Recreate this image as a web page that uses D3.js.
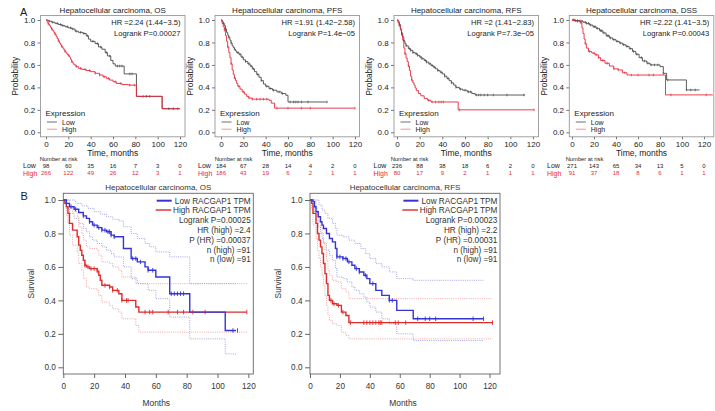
<!DOCTYPE html>
<html><head><meta charset="utf-8">
<script src="https://cdn.jsdelivr.net/npm/d3@7"></script>
<style>body{margin:0;background:#fff}svg{display:block}text{font-family:"Liberation Sans",Arial,sans-serif}</style>
</head><body><svg id="c" width="715" height="411"></svg>
<script>
// ---------- DATA (panel A: KM plotter) ----------
const aTitles = ["Hepatocellular carcinoma, OS","Hepatocellular carcinoma, PFS","Hepatocellular carcinoma, RFS","Hepatocellular carcinoma, DSS"];
const aHR = ["HR =2.24 (1.44\u22123.5)","HR =1.91 (1.42\u22122.58)","HR =2 (1.41\u22122.83)","HR =2.22 (1.41\u22123.5)"];
const aLogrank = ["Logrank P=0.00027","Logrank P=1.4e\u221205","Logrank P=7.3e\u221205","Logrank P=0.00043"];
const aTicks = [0,20,40,60,80,100,120];
const yTicks = [0,0.2,0.4,0.6,0.8,1.0];
const riskTimes = [0,20,40,60,80,100,120];
const riskLow = [[98,60,35,16,7,3,0],[184,67,28,14,4,2,0],[236,88,38,18,6,2,0],[271,143,65,34,13,5,0]];
const riskHigh = [[266,122,49,26,12,3,1],[186,43,19,6,2,1,1],[80,17,9,2,1,1,1],[91,37,18,8,6,1,1]];

const osLow = [[0,1],[2,0.99],[5,0.98],[8,0.97],[11,0.96],[14,0.95],[17,0.94],[20,0.93],[23,0.92],[26,0.9],[29,0.89],[33,0.88],[36,0.86],[38,0.83],[40,0.81],[44,0.79],[47,0.76],[50,0.74],[53,0.71],[55,0.68],[58,0.64],[60,0.61],[62,0.59],[70,0.52],[81,0.32],[104,0.21],[120,0.21]];
const osHigh = [[0,1],[1,0.98],[2,0.965],[3,0.95],[4,0.935],[5,0.92],[6,0.905],[7,0.89],[8,0.875],[9,0.855],[10,0.835],[11,0.815],[12,0.795],[13,0.78],[14,0.765],[15,0.75],[16,0.735],[17,0.72],[18,0.705],[19,0.695],[20,0.685],[21,0.67],[22,0.65],[23,0.63],[24,0.615],[25,0.6],[27,0.585],[29,0.57],[32,0.56],[36,0.55],[40,0.54],[44,0.525],[48,0.51],[51,0.495],[54,0.48],[57,0.465],[60,0.45],[63,0.435],[68,0.425],[74,0.42],[81,0.32],[104,0.21],[120,0.21]];
const pfsLow = [[0,1],[1,0.985],[2,0.97],[3,0.95],[4,0.92],[5,0.89],[6,0.865],[7,0.845],[8,0.82],[9,0.795],[10,0.77],[11,0.755],[12,0.74],[13,0.725],[14,0.71],[16,0.695],[18,0.67],[20,0.645],[22,0.63],[24,0.61],[26,0.59],[28,0.565],[30,0.54],[32,0.515],[34,0.49],[36,0.46],[38,0.43],[40,0.41],[43,0.39],[46,0.375],[50,0.36],[54,0.345],[58,0.33],[60,0.27],[95,0.27]];
const pfsHigh = [[0,1],[1,0.97],[2,0.94],[3,0.91],[4,0.86],[5,0.81],[6,0.76],[7,0.71],[8,0.665],[9,0.61],[10,0.555],[11,0.515],[12,0.485],[13,0.46],[14,0.435],[15,0.41],[17,0.385],[19,0.36],[21,0.34],[23,0.32],[25,0.305],[28,0.295],[43,0.285],[45,0.26],[48,0.215],[120,0.215]];
const rfsLow = [[0,1],[1,0.985],[2,0.96],[3,0.92],[4,0.885],[5,0.85],[6,0.815],[7,0.79],[8,0.77],[10,0.745],[12,0.73],[14,0.71],[16,0.7],[18,0.685],[20,0.67],[22,0.655],[24,0.64],[26,0.625],[28,0.61],[30,0.595],[32,0.58],[34,0.565],[36,0.55],[38,0.535],[40,0.52],[42,0.5],[44,0.48],[46,0.46],[48,0.44],[50,0.42],[52,0.4],[55,0.385],[58,0.375],[62,0.36],[66,0.345],[69,0.332],[113,0.332]];
const rfsHigh = [[0,1],[1,0.975],[2,0.95],[3,0.91],[4,0.87],[5,0.82],[6,0.75],[7,0.7],[8,0.66],[9,0.63],[10,0.59],[11,0.55],[12,0.5],[13,0.465],[14,0.44],[15,0.42],[16,0.395],[17,0.37],[19,0.345],[21,0.325],[24,0.3],[27,0.285],[30,0.27],[54,0.2],[121,0.2]];
const dssLow = [[0,1],[3,0.995],[7,0.99],[10,0.98],[13,0.97],[16,0.955],[19,0.94],[22,0.925],[25,0.905],[28,0.885],[31,0.86],[34,0.84],[37,0.825],[40,0.81],[43,0.795],[46,0.78],[49,0.765],[52,0.745],[55,0.72],[58,0.695],[61,0.665],[64,0.635],[68,0.615],[71,0.6],[80,0.585],[83,0.525],[86,0.466],[104,0.377],[116,0.377]];
const dssHigh = [[0,1],[3,0.99],[8,0.975],[9,0.93],[10,0.88],[11,0.83],[12,0.79],[13,0.75],[15,0.72],[18,0.705],[21,0.69],[24,0.665],[26,0.64],[30,0.615],[34,0.59],[38,0.565],[42,0.555],[46,0.53],[50,0.51],[84,0.51],[85,0.333],[128,0.333]];

const osLowCens = [3,6,10,13,15,19,22,24,27,31,34,37,42,46,49,54,57,64,66,68,75,77,90,93,110,114];
const osHighCens = [2,5,8,11,14,17,20,23,27,31,35,39,44,48,52,56,62,67,75,79,87,118];
const pfsLowCens = [2,4,7,9,12,15,17,19,22,25,27,29,33,36,41,44,47,52,55,62,65,67,69,72,78,95];
const pfsHighCens = [3,6,9,12,16,20,25,28,32,35,38,41,50,60,72,80,120];
const rfsLowCens = [2,4,6,8,11,12,14,17,18,21,22,25,26,29,31,33,36,39,42,45,48,52,56,60,63,65,70,72,74,77,80,85,97,112];
const rfsHighCens = [2,4,7,10,13,28,31,34,37,39,41,55,121];
const dssLowCens = [1,3,5,7,9,12,13,15,17,20,21,23,26,27,29,32,33,35,38,41,44,47,50,53,56,59,63,66,69,72,75,78,83,87,104,108,112];
const dssHighCens = [2,5,8,12,16,20,22,24,28,32,38,42,48,54,60,70,74,90,122];

// ---------- DATA (panel B: GEPIA) ----------
const bTitles = ["Hepatocellular carcinoma, OS","Hepatocellular carcinoma, RFS"];
const bLegend = ["Low RACGAP1 TPM","High RACGAP1 TPM"];
const bStats = [["Logrank P=0.00025","HR (high) =2.4","P (HR) =0.00037","n (high) =91","n (low) =91"],
                ["Logrank P=0.00023","HR (high) =2.2","P (HR) =0.00031","n (high) =91","n (low) =91"]];
const bXMax = [123.2,127];

const bOsLow = [[0,1],[2,0.98],[4,0.96],[7,0.945],[10,0.925],[13,0.905],[15,0.89],[17,0.87],[19,0.85],[22,0.835],[25,0.82],[28,0.81],[31,0.79],[33,0.78],[39,0.71],[44,0.65],[48,0.63],[53,0.6],[55,0.58],[60,0.54],[69,0.44],[82,0.33],[105,0.22],[112,0.22]];
const bOsHigh = [[0,1],[1,0.98],[2,0.96],[3,0.92],[4,0.86],[6,0.82],[9,0.78],[10,0.73],[11,0.7],[12,0.67],[13,0.64],[14,0.61],[15,0.6],[17,0.59],[22,0.575],[23,0.55],[24,0.52],[25,0.49],[30,0.48],[32,0.46],[36,0.44],[38,0.4],[47,0.36],[49,0.33],[119,0.33]];
const bOsLowUp = [[0,1],[5,1],[8,0.98],[12,0.965],[16,0.95],[20,0.93],[24,0.915],[28,0.9],[32,0.885],[36,0.875],[39,0.84],[44,0.8],[48,0.77],[53,0.74],[56,0.72],[60,0.69],[69,0.66],[82,0.5],[112,0.5]];
const bOsLowLo = [[0,1],[2,0.95],[4,0.92],[7,0.89],[10,0.86],[13,0.83],[15,0.81],[17,0.78],[19,0.76],[22,0.74],[25,0.72],[28,0.7],[31,0.68],[33,0.66],[39,0.6],[44,0.53],[48,0.5],[55,0.46],[60,0.41],[69,0.3],[82,0.17],[105,0.08],[112,0.08]];
const bOsHighUp = [[0,1],[3,1],[4,0.96],[6,0.93],[9,0.9],[10,0.84],[12,0.8],[13,0.76],[15,0.72],[17,0.71],[22,0.7],[23,0.67],[25,0.63],[30,0.62],[32,0.6],[36,0.58],[38,0.54],[47,0.5],[119,0.5]];
const bOsHighLo = [[0,1],[2,0.91],[3,0.86],[4,0.79],[6,0.73],[9,0.69],[10,0.62],[12,0.58],[13,0.53],[15,0.48],[17,0.47],[22,0.46],[23,0.43],[25,0.39],[30,0.37],[32,0.35],[36,0.33],[38,0.29],[47,0.25],[49,0.21],[119,0.21]];
const bOsLowCens = [2,5,8,13,17,20,23,25,27,29,30,31,33,45,47,50,55,58,70,72,74,76,78,110,113];
const bOsHighCens = [14,16,18,20,22,27,30,32,35,38,41,42,53,56,58,68,74,78,84,92,119];

const bRfsLow = [[0,1],[2,0.99],[3,0.96],[4,0.93],[5.5,0.9],[7,0.87],[8,0.85],[9,0.83],[11,0.8],[13,0.77],[15,0.75],[17,0.71],[18,0.66],[22,0.65],[25,0.63],[28,0.61],[30,0.59],[33,0.57],[36,0.55],[38,0.53],[40,0.5],[44,0.46],[48,0.43],[53,0.4],[58,0.34],[69,0.29],[116,0.29]];
const bRfsHigh = [[0,1],[1,0.98],[2,0.92],[4,0.86],[5,0.8],[6,0.76],[7,0.72],[8,0.68],[9,0.62],[10,0.56],[11,0.5],[12,0.43],[13,0.4],[15,0.38],[18,0.37],[21,0.33],[24,0.31],[26,0.267],[122,0.267]];
const bRfsLowUp = [[0,1],[4,1],[6,0.97],[8,0.94],[10,0.92],[12,0.89],[15,0.86],[17,0.83],[18,0.79],[22,0.78],[26,0.76],[30,0.74],[34,0.71],[37,0.68],[40,0.65],[44,0.62],[48,0.6],[53,0.57],[58,0.53],[69,0.52],[116,0.52]];
const bRfsLowLo = [[0,1],[2,0.96],[3,0.92],[4,0.88],[5.5,0.84],[7,0.8],[8,0.77],[9,0.74],[11,0.7],[13,0.67],[15,0.64],[17,0.59],[18,0.54],[22,0.53],[25,0.51],[28,0.48],[30,0.46],[33,0.44],[36,0.42],[38,0.39],[40,0.36],[44,0.33],[48,0.29],[53,0.26],[58,0.2],[69,0.16],[116,0.16]];
const bRfsHighUp = [[0,1],[2,1],[4,0.95],[5,0.9],[6,0.87],[7,0.84],[8,0.8],[9,0.75],[10,0.7],[11,0.64],[12,0.58],[13,0.55],[15,0.52],[18,0.51],[21,0.47],[24,0.45],[26,0.41],[122,0.41]];
const bRfsHighLo = [[0,1],[1,0.95],[2,0.85],[4,0.77],[5,0.7],[6,0.65],[7,0.6],[8,0.55],[9,0.49],[10,0.43],[11,0.37],[12,0.31],[13,0.28],[15,0.26],[18,0.25],[21,0.21],[24,0.19],[26,0.17],[122,0.17]];
const bRfsLowCens = [18,20,22,24,26,31,33,37,42,53,55,72,77,80,84,109,116];
const bRfsHighCens = [14,16,19,22,27,36,38,40,42,44,46,47,48,57,59,64,122];

// ---------- layout & style ----------
const aLow = [osLow,pfsLow,rfsLow,dssLow], aHigh = [osHigh,pfsHigh,rfsHigh,dssHigh];
const aLowC = [osLowCens,pfsLowCens,rfsLowCens,dssLowCens], aHighC = [osHighCens,pfsHighCens,rfsHighCens,dssHighCens];
const aBoxL = [40.5,215,394,569.3], aBoxW = 144.5, aX0 = [46,221,397,572], aX120 = [180,355,533,704];
const aRiskLab = [23,198,373.5,547];
const aTop = 15.5, aBot = 136.8;
const A_LOW = "#4a4a4a", A_HIGH = "#e8283a", TXT = "#222";
const B_BLUE = "#3535d6", B_RED = "#e02a2a", B_BLUE_CI = "#8c8cdc", B_RED_CI = "#ec9090";

const svg = d3.select("#c");
const lineGen = (x,y) => d3.line().x(d=>x(d[0])).y(d=>y(d[1])).curve(d3.curveStepAfter);
const survAt = (curve,t) => { let s = curve[0][1]; for (const p of curve) { if (p[0] <= t) s = p[1]; } return s; };

function censors(g, curve, times, x, y, color, h, w) {
  g.selectAll(null).data(times).enter().append("line")
    .attr("x1", d=>x(d)).attr("x2", d=>x(d))
    .attr("y1", d=>y(survAt(curve,d))-h/2).attr("y2", d=>y(survAt(curve,d))+h/2)
    .attr("stroke", color).attr("stroke-width", w);
}

// ---------- Panel A ----------
svg.append("text").attr("x",20).attr("y",15.5).attr("font-size",11).attr("fill",TXT).text("A");
for (let i = 0; i < 4; i++) {
  const L = aBoxL[i], R = L + aBoxW;
  const x = d3.scaleLinear().domain([0,120]).range([aX0[i], aX120[i]]);
  const y = d3.scaleLinear().domain([0,1]).range([132.3, 20]);
  const g = svg.append("g");
  g.append("path").datum(aLow[i]).attr("d", lineGen(x,y)).attr("fill","none").attr("stroke",A_LOW).attr("stroke-width",0.9);
  g.append("path").datum(aHigh[i]).attr("d", lineGen(x,y)).attr("fill","none").attr("stroke",A_HIGH).attr("stroke-width",0.9);
  censors(g, aLow[i], aLowC[i], x, y, A_LOW, 2.6, 0.7);
  censors(g, aHigh[i], aHighC[i], x, y, A_HIGH, 2.6, 0.7);
  g.append("rect").attr("x",L).attr("y",aTop).attr("width",aBoxW).attr("height",aBot-aTop).attr("fill","none").attr("stroke","#999").attr("stroke-width",0.9);
  const ya = g.append("g").attr("transform",`translate(${L},0)`)
    .call(d3.axisLeft(y).tickValues(yTicks).tickFormat(d3.format(".1f")).tickSize(3).tickPadding(2.3));
  const xa = g.append("g").attr("transform",`translate(0,${aBot})`)
    .call(d3.axisBottom(x).tickValues(aTicks).tickSize(2.5).tickPadding(2));
  [ya,xa].forEach(a => { a.select(".domain").remove(); a.selectAll("line").attr("stroke","#777");
    a.selectAll("text").attr("font-size",8).attr("fill",TXT).attr("font-family",'"Liberation Sans",Arial,sans-serif'); });
  g.append("text").attr("x",(L+R)/2).attr("y",12.8).attr("text-anchor","middle").attr("font-size",8).attr("fill",TXT).text(aTitles[i]);
  g.append("text").attr("x",R-4.5).attr("y",24.6).attr("text-anchor","end").attr("font-size",7.6).attr("fill",TXT).text(aHR[i]);
  g.append("text").attr("x",R-4.5).attr("y",36).attr("text-anchor","end").attr("font-size",7.6).attr("fill",TXT).text(aLogrank[i]);
  g.append("text").attr("transform",`translate(${L-22.5},${(aTop+aBot)/2}) rotate(-90)`).attr("text-anchor","middle")
    .attr("font-size",8.3).attr("fill",TXT).text("Probability");
  g.append("text").attr("x",(L+R)/2).attr("y",156).attr("text-anchor","middle").attr("font-size",8.5).attr("fill",TXT).text("Time, months");
  g.append("text").attr("x",L+5).attr("y",115.5).attr("font-size",8).attr("fill",TXT).text("Expression");
  g.append("line").attr("x1",L+6.5).attr("x2",L+16.5).attr("y1",122).attr("y2",122).attr("stroke",A_LOW).attr("stroke-width",0.8);
  g.append("line").attr("x1",L+6.5).attr("x2",L+16.5).attr("y1",129.2).attr("y2",129.2).attr("stroke","#f07a7a").attr("stroke-width",0.8);
  g.append("text").attr("x",L+21.5).attr("y",124.7).attr("font-size",7).attr("fill",TXT).text("Low");
  g.append("text").attr("x",L+21.5).attr("y",132).attr("font-size",7).attr("fill",TXT).text("High");
  g.append("text").attr("x",x(0)+12.5).attr("y",161.3).attr("text-anchor","middle").attr("font-size",5.8).attr("fill",TXT).text("Number at risk");
  g.append("text").attr("x",aRiskLab[i]).attr("y",168.2).attr("font-size",7).attr("fill",TXT).text("Low");
  g.append("text").attr("x",aRiskLab[i]).attr("y",175.8).attr("font-size",7).attr("fill",A_HIGH).text("High");
  g.selectAll(null).data(riskLow[i]).enter().append("text").attr("x",(d,j)=>x(riskTimes[j])).attr("y",167.8)
    .attr("text-anchor","middle").attr("font-size",6).attr("fill",TXT).text(d=>d);
  g.selectAll(null).data(riskHigh[i]).enter().append("text").attr("x",(d,j)=>x(riskTimes[j])).attr("y",175.4)
    .attr("text-anchor","middle").attr("font-size",6).attr("fill",A_HIGH).text(d=>d);
}

// ---------- Panel B ----------
const bBoxL = [63.3,310], bBoxW = 190, bTop = 193.3, bBot = 374;
const bCurves = [[bOsLow,bOsHigh,bOsLowUp,bOsLowLo,bOsHighUp,bOsHighLo,bOsLowCens,bOsHighCens],
                 [bRfsLow,bRfsHigh,bRfsLowUp,bRfsLowLo,bRfsHighUp,bRfsHighLo,bRfsLowCens,bRfsHighCens]];
svg.append("text").attr("x",20.5).attr("y",199.5).attr("font-size",11).attr("fill",TXT).text("B");
for (let i = 0; i < 2; i++) {
  const L = bBoxL[i], R = L + bBoxW;
  const [lo, hi, loUp, loLo, hiUp, hiLo, loC, hiC] = bCurves[i];
  const x = d3.scaleLinear().domain([0,bXMax[i]]).range([L, R]);
  const y = d3.scaleLinear().domain([0,1]).range([367.3, 200]);
  const g = svg.append("g");
  [[loUp,B_BLUE_CI],[loLo,B_BLUE_CI],[hiUp,B_RED_CI],[hiLo,B_RED_CI]].forEach(([c,col]) => {
    g.append("path").datum(c).attr("d", lineGen(x,y)).attr("fill","none").attr("stroke",col)
      .attr("stroke-width",0.8).attr("stroke-dasharray","1,1.2");
  });
  g.append("path").datum(hi).attr("d", lineGen(x,y)).attr("fill","none").attr("stroke",B_RED).attr("stroke-width",1.4);
  g.append("path").datum(lo).attr("d", lineGen(x,y)).attr("fill","none").attr("stroke",B_BLUE).attr("stroke-width",1.4);
  censors(g, hi, hiC, x, y, B_RED, 4.5, 0.9);
  censors(g, lo, loC, x, y, B_BLUE, 4.5, 0.9);
  g.append("rect").attr("x",L).attr("y",bTop).attr("width",bBoxW).attr("height",bBot-bTop).attr("fill","none").attr("stroke","#666").attr("stroke-width",0.9);
  const ya = g.append("g").attr("transform",`translate(${L},0)`)
    .call(d3.axisLeft(y).tickValues(yTicks).tickFormat(d3.format(".1f")).tickSize(5).tickPadding(2.5));
  const xa = g.append("g").attr("transform",`translate(0,${bBot})`)
    .call(d3.axisBottom(x).tickValues(aTicks).tickSize(4).tickPadding(5.5));
  [ya,xa].forEach(a => { a.select(".domain").remove(); a.selectAll("line").attr("stroke","#666");
    a.selectAll("text").attr("font-size",8.2).attr("fill","#333").attr("font-family",'"Liberation Sans",Arial,sans-serif'); });
  g.append("text").attr("x",(L+R)/2).attr("y",190).attr("text-anchor","middle").attr("font-size",8).attr("fill","#333").text(bTitles[i]);
  g.append("text").attr("transform",`translate(${L-29.5},${(bTop+bBot)/2}) rotate(-90)`).attr("text-anchor","middle")
    .attr("font-size",8.3).attr("fill","#333").text("Survival");
  g.append("text").attr("x",(L+R)/2-2).attr("y",405.5).attr("text-anchor","middle").attr("font-size",8.4).attr("fill","#333").text("Months");
  g.append("line").attr("x1",R-96.6).attr("x2",R-81.6).attr("y1",200.7).attr("y2",200.7).attr("stroke",B_BLUE).attr("stroke-width",2);
  g.append("line").attr("x1",R-97.6).attr("x2",R-82).attr("y1",210).attr("y2",210).attr("stroke",B_RED).attr("stroke-width",1.4);
  g.append("text").attr("x",R-2.6).attr("y",203.6).attr("text-anchor","end").attr("font-size",8.2).attr("fill","#333").text(bLegend[0]);
  g.append("text").attr("x",R-2.6).attr("y",213).attr("text-anchor","end").attr("font-size",8.2).attr("fill","#333").text(bLegend[1]);
  g.selectAll(null).data(bStats[i]).enter().append("text").attr("x",R-2.6).attr("y",(d,j)=>223+j*9.85)
    .attr("text-anchor","end").attr("font-size",8.2).attr("fill","#333").text(d=>d);
}
</script></body></html>
